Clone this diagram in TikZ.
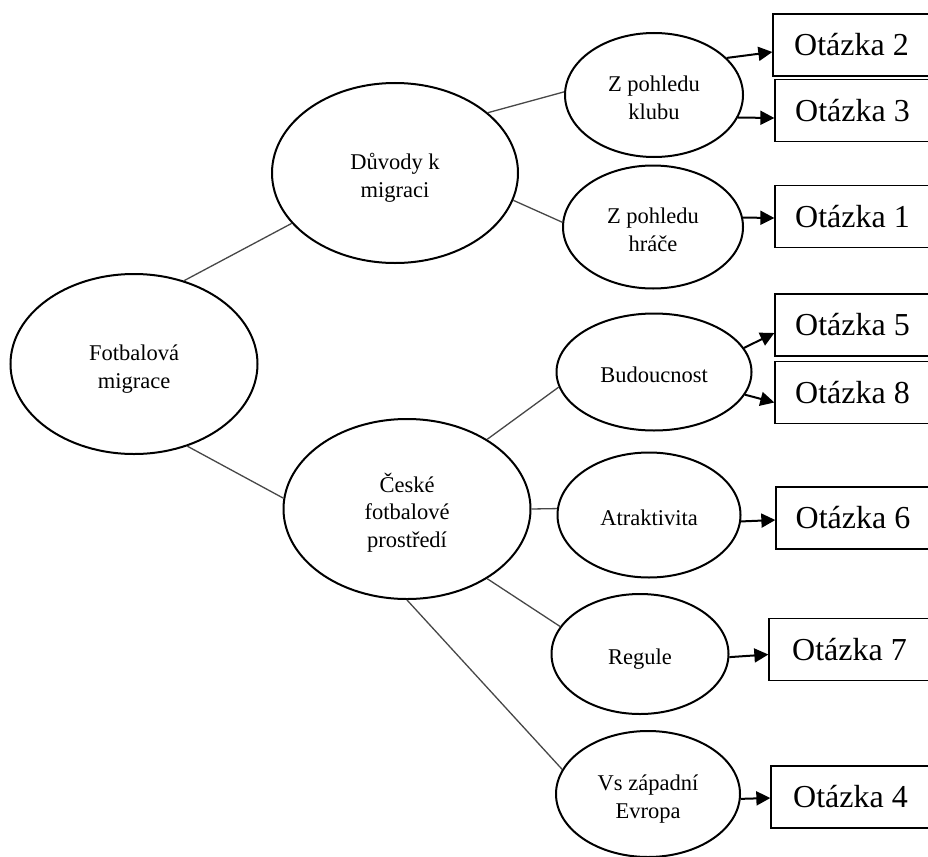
\documentclass[tikz,border=0pt]{standalone}
\usepackage{fontspec}
\setmainfont{Liberation Serif}
\usetikzlibrary{shapes.geometric,arrows.meta}
\newcommand\ellt[2]{\raisebox{0pt}[#1][0pt]{\begin{tabular}[b]{@{}c@{}}#2\end{tabular}}}
\begin{document}
\begin{tikzpicture}[x=1bp,y=-1bp,
  ell/.style={ellipse,draw,line width=2bp,inner sep=0pt,
    font=\fontsize{22.5bp}{27.5bp}\selectfont},
  qbox/.style={draw,line width=1.3bp,minimum height=62bp,
    inner sep=0pt,font=\fontsize{32bp}{36bp}\selectfont},
  link/.style={draw=black!72,line width=1.3bp},
  arr/.style={line width=2bp,-{Triangle[length=14bp,width=14bp]}}]
\fill[white] (0,0) rectangle (928,857);
\clip (0,0) rectangle (928,857);
% ellipses
\node[ell,minimum width=247bp,minimum height=180bp] (fm) at (134,364) {\ellt{48bp}{Fotbalová\\migrace}};
\node[ell,minimum width=246bp,minimum height=180bp] (dv) at (395,173) {\ellt{48bp}{Důvody k\\migraci}};
\node[ell,minimum width=247bp,minimum height=180bp] (cs) at (407,509) {\ellt{76bp}{České\\fotbalové\\prostředí}};
\node[ell,minimum width=178bp,minimum height=124bp] (zk) at (654,95) {\ellt{48bp}{Z pohledu\\klubu}};
\node[ell,minimum width=180bp,minimum height=123bp] (zh) at (653,227) {\ellt{48bp}{Z pohledu\\hráče}};
\node[ell,minimum width=195bp,minimum height=117bp] (bd) at (654,372) {\ellt{20bp}{Budoucnost}};
\node[ell,minimum width=183bp,minimum height=125bp] (at) at (649,515) {\ellt{20bp}{Atraktivita}};
\node[ell,minimum width=177bp,minimum height=120bp] (rg) at (640,654) {\ellt{20bp}{Regule}};
\node[ell,minimum width=184bp,minimum height=126bp] (vs) at (648,794) {\ellt{48bp}{Vs západní\\Evropa}};
% boxes (left edge to right page edge)
\node[qbox,minimum width=157bp] (q2) at (851.5,45) {Otázka 2};
\node[qbox,minimum width=155bp] (q3) at (852.5,110.5) {Otázka 3};
\node[qbox,minimum width=155bp] (q1) at (852.5,216.5) {Otázka 1};
\node[qbox,minimum width=155bp] (q5) at (852.5,325) {Otázka 5};
\node[qbox,minimum width=155bp] (q8) at (852.5,392.5) {Otázka 8};
\node[qbox,minimum width=154bp] (q6) at (853,518) {Otázka 6};
\node[qbox,minimum width=161bp] (q7) at (849.5,649.5) {Otázka 7};
\node[qbox,minimum width=159bp] (q4) at (850.5,797) {Otázka 4};
% links
\draw[link] (fm.59) -- (dv.206);
\draw[link] (fm.-57) -- (cs.175);
\draw[link] (dv.33) -- (zk.178);
\draw[link] (dv.-13) -- (zh.177);
\draw[link] (cs.41) -- (bd.189);
\draw[link] (cs.east) -- (at.176);
\draw[link] (cs.-41.5) -- (rg.161.5);
\draw[link] (cs.south) -- (vs.164);
% arrows
\draw[arr] (zk.27) -- ([yshift=-7bp]q2.west);
\draw[arr] (zk.-15) -- ([yshift=-7.5bp]q3.west);
\draw[arr] (zh.6) -- ([yshift=-1.5bp]q1.west);
\draw[arr] (bd.15) -- ([yshift=-8bp]q5.west);
\draw[arr] (bd.-14) -- ([yshift=-10bp]q8.west);
\draw[arr] (at.-4) -- ([yshift=-2bp]q6.west);
\draw[arr] (rg.-2) -- ([yshift=-5bp]q7.west);
\draw[arr] (vs.-3) -- ([yshift=-1bp]q4.west);
\end{tikzpicture}
\end{document}
